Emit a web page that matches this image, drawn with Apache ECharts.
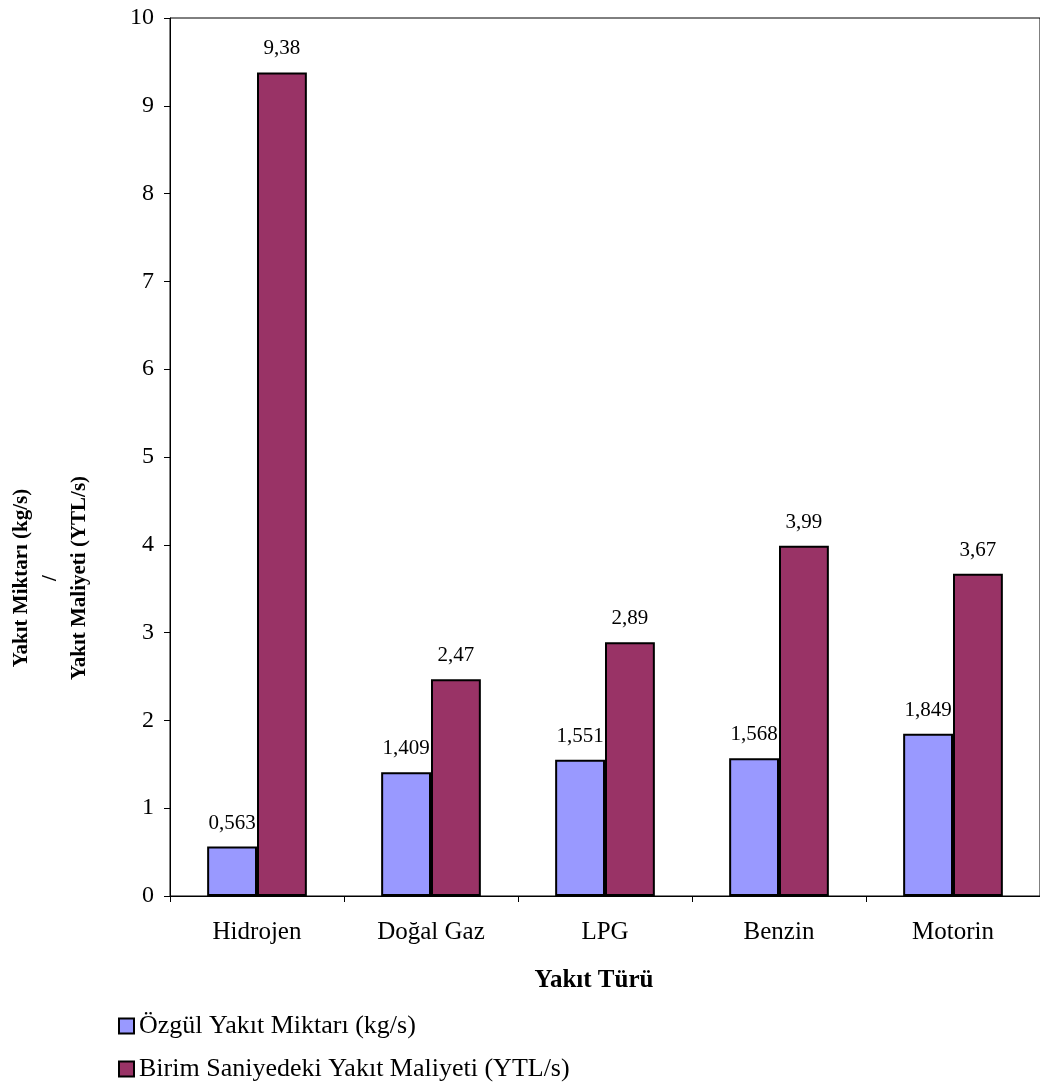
<!DOCTYPE html>
<html>
<head>
<meta charset="utf-8">
<script src="https://cdn.jsdelivr.net/npm/echarts@6/dist/echarts.min.js"></script>
<style>
  html, body { margin: 0; padding: 0; background: #fff; }
  #chart { width: 1040px; height: 1084px; }
</style>
</head>
<body>
<div id="chart"></div>
<script>
// Fuel types on the horizontal axis
var categories = ['Hidrojen', 'Doğal Gaz', 'LPG', 'Benzin', 'Motorin'];
// Specific fuel amount (kg/s)
var fuelAmount = [0.563, 1.409, 1.551, 1.568, 1.849];
// Fuel cost per second (YTL/s)
var fuelCost = [9.38, 2.47, 2.89, 3.99, 3.67];
var seriesNames = ['Özgül Yakıt Miktarı (kg/s)', 'Birim Saniyedeki Yakıt Maliyeti (YTL/s)'];
var yTitleLines = ['Yakıt Miktarı (kg/s)', '/', 'Yakıt Maliyeti (YTL/s)'];
var xTitle = 'Yakıt Türü';

var FONT = '"Liberation Serif", "Times New Roman", serif';

function commaLabel(p) {
  return String(p.value).replace('.', ',');
}

function barSeries(name, data, color) {
  return {
    name: name,
    type: 'bar',
    data: data,
    barGap: '0%',
    barCategoryGap: '42.7%',
    itemStyle: { color: color, borderColor: '#000', borderWidth: 2 },
    label: {
      show: true,
      position: 'top',
      distance: 13,
      formatter: commaLabel,
      fontFamily: FONT,
      fontSize: 21,
      color: '#000'
    },
    emphasis: { disabled: true }
  };
}

function legendRow(name, top) {
  return {
    orient: 'vertical',
    left: 113, top: top,
    itemWidth: 15, itemHeight: 15,
    icon: 'rect',
    textStyle: { fontFamily: FONT, fontSize: 26, color: '#000' },
    data: [name]
  };
}

var chart = echarts.init(document.getElementById('chart'), null, { renderer: 'canvas' });
chart.setOption({
  animation: false,
  backgroundColor: '#fff',
  textStyle: { fontFamily: FONT },
  grid: {
    left: 170, top: 18, width: 874, bottom: 188,
    show: true, borderColor: '#000', borderWidth: 1, backgroundColor: 'transparent'
  },
  legend: [
    legendRow(seriesNames[0], 1008),
    legendRow(seriesNames[1], 1051)
  ],
  xAxis: {
    type: 'category',
    data: categories,
    axisLine: { lineStyle: { color: '#000', width: 1 } },
    axisTick: { show: true, length: 6, lineStyle: { color: '#000' } },
    axisLabel: { fontFamily: FONT, fontSize: 25, color: '#000', margin: 24 }
  },
  yAxis: {
    type: 'value',
    min: 0, max: 10, interval: 1,
    axisLine: { show: true, lineStyle: { color: '#000', width: 1 } },
    axisTick: { show: true, length: 6, lineStyle: { color: '#000' } },
    splitLine: { show: false },
    axisLabel: { fontFamily: FONT, fontSize: 24, color: '#000', margin: 16 }
  },
  graphic: [{
    // vertical axis title, reading bottom to top
    type: 'text',
    x: 51, y: 578,
    rotation: Math.PI / 2,
    style: {
      text: yTitleLines.join('\n'),
      fontFamily: FONT,
      fontSize: 21,
      fontWeight: 'bold',
      lineHeight: 29,
      fill: '#000',
      align: 'center',
      verticalAlign: 'middle'
    }
  }, {
    // horizontal axis title
    type: 'text',
    x: 594, y: 981,
    style: {
      text: xTitle,
      fontFamily: FONT,
      fontSize: 25,
      fontWeight: 'bold',
      fill: '#000',
      align: 'center',
      verticalAlign: 'middle'
    }
  }],
  series: [
    barSeries(seriesNames[0], fuelAmount, '#9999FF'),
    barSeries(seriesNames[1], fuelCost, '#993366')
  ]
});
</script>
</body>
</html>
